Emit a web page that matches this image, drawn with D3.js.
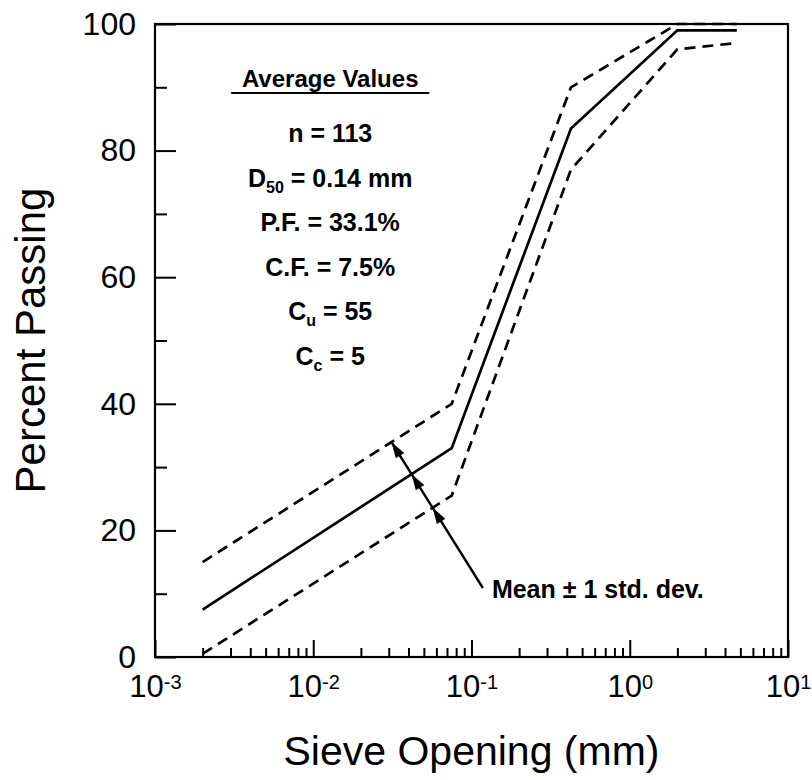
<!DOCTYPE html>
<html>
<head>
<meta charset="utf-8">
<script src="https://cdn.jsdelivr.net/npm/d3@7"></script>
<style>
  body { margin: 0; background: #fff; }
  svg { display: block; font-family: "Liberation Sans", Arial, Helvetica, sans-serif; }
</style>
</head>
<body>
<div id="chart"></div>
<script>
// grain size distribution: sieve opening (mm) vs percent passing
var sieveSizes   = [0.002, 0.075, 0.425, 2.0, 4.75];
var meanPassing  = [7.5, 33, 83.5, 99, 99];
var upperPassing = [15, 40, 90, 100, 100];   // mean + 1 std. dev.
var lowerPassing = [0.5, 25.5, 77, 96, 97];  // mean - 1 std. dev.

var yTicks      = [0, 20, 40, 60, 80, 100];
var yMinorTicks = [10, 30, 50, 70, 90];
var xDecades    = [1e-3, 1e-2, 1e-1, 1e0, 1e1];
var xExponents  = ["-3", "-2", "-1", "0", "1"];

var statsTitle = "Average Values";
var statLines = [
  { main: "n",   sub: "",   rest: " = 113" },
  { main: "D",   sub: "50", rest: " = 0.14 mm" },
  { main: "P.F.", sub: "",  rest: " = 33.1%" },
  { main: "C.F.", sub: "",  rest: " = 7.5%" },
  { main: "C",   sub: "u",  rest: " = 55" },
  { main: "C",   sub: "c",  rest: " = 5" }
];

// arrow from the label up to the upper curve (data units)
var arrowLabel = "Mean \u00b1 1 std. dev.";
var arrowTail = { size: 0.118, pct: 10.9 };
var arrowTip  = { size: 0.0315, pct: 33.8 };

var margin = { top: 24, right: 24, bottom: 123, left: 155 };
var W = 812, H = 780;
var width = W - margin.left - margin.right,
    height = H - margin.top - margin.bottom;

var svg = d3.select("#chart").append("svg")
    .attr("width", W)
    .attr("height", H);

var g = svg.append("g")
    .attr("transform", "translate(" + margin.left + "," + margin.top + ")");

var x = d3.scaleLog().domain([1e-3, 10]).range([0, width]);
var y = d3.scaleLinear().domain([0, 100]).range([height, 0]);

// minor x ticks 2..9 in each decade
var xMinor = [];
xDecades.slice(0, -1).forEach(function(d) {
  for (var k = 2; k <= 9; k++) xMinor.push(d * k);
});

/* ------ AXES ------ */
var yAxis = g.append("g")
    .call(d3.axisLeft(y).tickValues(yTicks).tickSize(-21).tickSizeOuter(0).tickPadding(19));
yAxis.selectAll(".tick text")
    .attr("font-size", 32)
    .attr("font-family", null)
    .attr("fill", "#000");

g.append("g")
    .call(d3.axisLeft(y).tickValues(yMinorTicks).tickSize(-12).tickSizeOuter(0).tickFormat(""));

var xAxis = g.append("g")
    .attr("transform", "translate(0," + height + ")")
    .call(d3.axisBottom(x).tickValues(xDecades).tickSize(-17).tickSizeOuter(0).tickPadding(18));

xAxis.selectAll(".tick text")
    .attr("font-size", 31)
    .attr("font-family", null)
    .attr("fill", "#000")
    .text(null)
    .each(function(d, i) {
      var t = d3.select(this);
      t.append("tspan").text("10");
      t.append("tspan")
        .attr("font-size", 20)
        .attr("dy", "-0.42em")
        .text(xExponents[i]);
    });

g.append("g")
    .attr("transform", "translate(0," + height + ")")
    .call(d3.axisBottom(x).tickValues(xMinor).tickSize(-9).tickSizeOuter(0).tickFormat(""));

g.selectAll(".domain").remove();
g.selectAll(".tick line").attr("stroke", "#000").attr("stroke-width", 2);

// frame
g.append("rect")
    .attr("width", width)
    .attr("height", height)
    .attr("fill", "none")
    .attr("stroke", "#000")
    .attr("stroke-width", 2.2);

/* ------ CURVES ------ */
function toPoints(vals) {
  return sieveSizes.map(function(s, i) { return [x(s), y(vals[i])]; });
}

var line = d3.line();

var curves = [
  { pts: toPoints(upperPassing), dash: "11,7" },
  { pts: toPoints(meanPassing),  dash: null },
  { pts: toPoints(lowerPassing), dash: "11,7" }
];

g.selectAll(".curve")
  .data(curves)
  .enter().append("path")
    .attr("class", "curve")
    .attr("d", function(d) { return line(d.pts); })
    .attr("fill", "none")
    .attr("stroke", "#000")
    .attr("stroke-width", 2.7)
    .attr("stroke-dasharray", function(d) { return d.dash; });

/* ------ ANNOTATION ARROW ------ */
var tail = [x(arrowTail.size), y(arrowTail.pct)];
var tip  = [x(arrowTip.size), y(arrowTip.pct)];
var dx = tip[0] - tail[0], dy = tip[1] - tail[1];
var len = Math.sqrt(dx * dx + dy * dy);
var ux = dx / len, uy = dy / len;
var farEnd = [tail[0] + ux * len * 1.15, tail[1] + uy * len * 1.15];

// where the arrow shaft crosses a polyline
function crossing(pts) {
  for (var i = 0; i < pts.length - 1; i++) {
    var p = pts[i], q = pts[i + 1];
    var rX = farEnd[0] - tail[0], rY = farEnd[1] - tail[1];
    var sX = q[0] - p[0], sY = q[1] - p[1];
    var den = rX * sY - rY * sX;
    if (Math.abs(den) < 1e-9) continue;
    var t = ((p[0] - tail[0]) * sY - (p[1] - tail[1]) * sX) / den;
    var u = ((p[0] - tail[0]) * rY - (p[1] - tail[1]) * rX) / den;
    if (t >= 0 && t <= 1 && u >= 0 && u <= 1) return [tail[0] + t * rX, tail[1] + t * rY];
  }
  return null;
}

var heads = curves.map(function(c) { return crossing(c.pts); }).filter(function(p) { return p; });
var topHead = heads[0];

g.append("line")
    .attr("x1", tail[0]).attr("y1", tail[1])
    .attr("x2", topHead[0]).attr("y2", topHead[1])
    .attr("stroke", "#000")
    .attr("stroke-width", 2.4);

var headLen = 16, headHalf = 5;
g.selectAll(".arrowhead")
  .data(heads)
  .enter().append("path")
    .attr("class", "arrowhead")
    .attr("d", function(p) {
      var bx = p[0] - ux * headLen, by = p[1] - uy * headLen;
      return "M" + p[0] + "," + p[1] +
        "L" + (bx - uy * headHalf) + "," + (by + ux * headHalf) +
        "L" + (bx + uy * headHalf) + "," + (by - ux * headHalf) + "Z";
    })
    .attr("fill", "#000");

g.append("text")
    .attr("x", tail[0] + 9)
    .attr("y", tail[1] + 10)
    .attr("font-size", 25)
    .attr("font-weight", "bold")
    .text(arrowLabel);

/* ------ STATS BOX ------ */
var statsX = x(0.0128);
g.append("text")
    .attr("x", statsX)
    .attr("y", 63)
    .attr("text-anchor", "middle")
    .attr("font-size", 24)
    .attr("font-weight", "bold")
    .text(statsTitle);

g.append("line")
    .attr("x1", statsX - 99).attr("x2", statsX + 99)
    .attr("y1", 69).attr("y2", 69)
    .attr("stroke", "#000")
    .attr("stroke-width", 2);

var rows = g.selectAll(".stat")
  .data(statLines)
  .enter().append("text")
    .attr("class", "stat")
    .attr("x", statsX)
    .attr("y", function(d, i) { return 118 + i * 44.5; })
    .attr("text-anchor", "middle")
    .attr("font-size", 25)
    .attr("font-weight", "bold");

rows.append("tspan").text(function(d) { return d.main; });
rows.append("tspan")
    .attr("font-size", 16)
    .attr("dy", function(d) { return d.sub ? 6 : 0; })
    .text(function(d) { return d.sub; });
rows.append("tspan")
    .attr("dy", function(d) { return d.sub ? -6 : 0; })
    .text(function(d) { return d.rest; });

/* ------ AXIS TITLES ------ */
svg.append("text")
    .attr("transform", "translate(45," + (margin.top + height / 2) + ") rotate(-90)")
    .attr("text-anchor", "middle")
    .attr("font-size", 42)
    .text("Percent Passing");

svg.append("text")
    .attr("x", margin.left + width / 2)
    .attr("y", 765)
    .attr("text-anchor", "middle")
    .attr("font-size", 41)
    .text("Sieve Opening (mm)");
</script>
</body>
</html>
